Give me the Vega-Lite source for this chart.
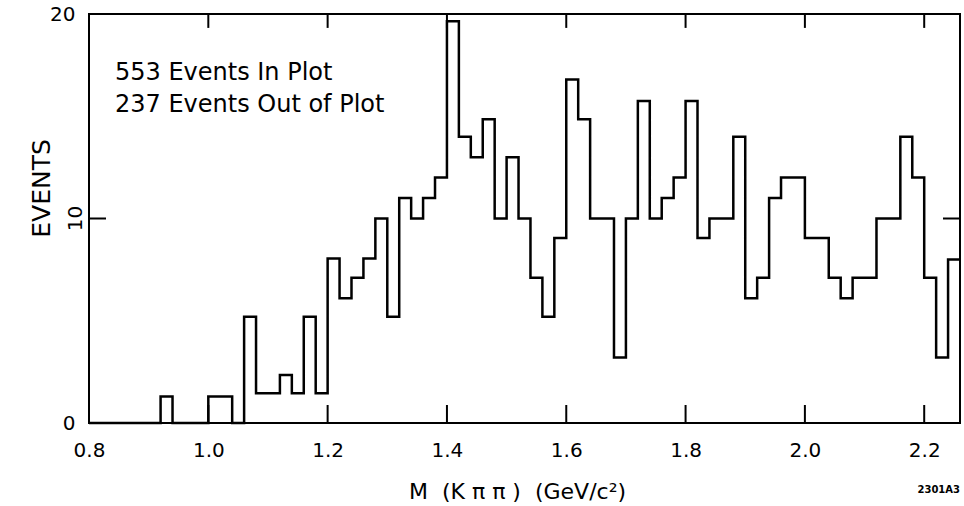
{
  "$schema": "https://vega.github.io/schema/vega-lite/v6.json",
  "width": 871,
  "height": 409,
  "autosize": "none",
  "padding": {"left": 89, "top": 14, "right": 4, "bottom": 83},
  "background": "white",
  "config": {
    "view": {"stroke": "black", "strokeWidth": 2},
    "font": "DejaVu Sans",
    "axis": {
      "domain": false,
      "grid": false,
      "ticks": false,
      "labelColor": "black",
      "titleColor": "black",
      "labelFont": "DejaVu Sans",
      "titleFont": "DejaVu Sans",
      "titleFontWeight": "normal",
      "labelFontSize": 20,
      "labelFlush": false,
      "labelOverlap": false
    }
  },
  "datasets": {
    "hist": [
      {"m": 0.80, "events": 0}, {"m": 0.82, "events": 0}, {"m": 0.84, "events": 0},
      {"m": 0.86, "events": 0}, {"m": 0.88, "events": 0}, {"m": 0.90, "events": 0},
      {"m": 0.92, "events": 1.3}, {"m": 0.94, "events": 0}, {"m": 0.96, "events": 0},
      {"m": 0.98, "events": 0}, {"m": 1.00, "events": 1.3}, {"m": 1.02, "events": 1.3},
      {"m": 1.04, "events": 0}, {"m": 1.06, "events": 5.2}, {"m": 1.08, "events": 1.45},
      {"m": 1.10, "events": 1.45}, {"m": 1.12, "events": 2.35}, {"m": 1.14, "events": 1.45},
      {"m": 1.16, "events": 5.2}, {"m": 1.18, "events": 1.45}, {"m": 1.20, "events": 8.05},
      {"m": 1.22, "events": 6.1}, {"m": 1.24, "events": 7.1}, {"m": 1.26, "events": 8.05},
      {"m": 1.28, "events": 10}, {"m": 1.30, "events": 5.2}, {"m": 1.32, "events": 11},
      {"m": 1.34, "events": 10}, {"m": 1.36, "events": 11}, {"m": 1.38, "events": 12},
      {"m": 1.40, "events": 19.65}, {"m": 1.42, "events": 14}, {"m": 1.44, "events": 13},
      {"m": 1.46, "events": 14.85}, {"m": 1.48, "events": 10}, {"m": 1.50, "events": 13},
      {"m": 1.52, "events": 10}, {"m": 1.54, "events": 7.1}, {"m": 1.56, "events": 5.2},
      {"m": 1.58, "events": 9.05}, {"m": 1.60, "events": 16.8}, {"m": 1.62, "events": 14.85},
      {"m": 1.64, "events": 10}, {"m": 1.66, "events": 10}, {"m": 1.68, "events": 3.2},
      {"m": 1.70, "events": 10}, {"m": 1.72, "events": 15.75}, {"m": 1.74, "events": 10},
      {"m": 1.76, "events": 11}, {"m": 1.78, "events": 12}, {"m": 1.80, "events": 15.75},
      {"m": 1.82, "events": 9.05}, {"m": 1.84, "events": 10}, {"m": 1.86, "events": 10},
      {"m": 1.88, "events": 14}, {"m": 1.90, "events": 6.1}, {"m": 1.92, "events": 7.1},
      {"m": 1.94, "events": 11}, {"m": 1.96, "events": 12}, {"m": 1.98, "events": 12},
      {"m": 2.00, "events": 9.05}, {"m": 2.02, "events": 9.05}, {"m": 2.04, "events": 7.1},
      {"m": 2.06, "events": 6.1}, {"m": 2.08, "events": 7.1}, {"m": 2.10, "events": 7.1},
      {"m": 2.12, "events": 10}, {"m": 2.14, "events": 10}, {"m": 2.16, "events": 14},
      {"m": 2.18, "events": 12}, {"m": 2.20, "events": 7.1}, {"m": 2.22, "events": 3.2},
      {"m": 2.24, "events": 8}, {"m": 2.26, "events": 8}
    ],
    "xticks": [
      {"m": 1.0}, {"m": 1.2}, {"m": 1.4}, {"m": 1.6}, {"m": 1.8}, {"m": 2.0}, {"m": 2.2}
    ],
    "yticks": [
      {"events": 10}
    ],
    "notes": [
      {"m": 0.8435, "events": 16.77, "label": "553 Events In Plot"},
      {"m": 0.8435, "events": 15.21, "label": "237 Events Out of Plot"}
    ],
    "ylabel": [
      {"m": 0.7883, "events": 10, "label": "10"}
    ],
    "code": [
      {"m": 2.26, "events": -3.3, "label": "2301A3"}
    ]
  },
  "layer": [
    {
      "data": {"name": "hist"},
      "mark": {"type": "line", "interpolate": "step-after", "color": "black", "strokeWidth": 2.5},
      "encoding": {
        "x": {
          "field": "m", "type": "quantitative",
          "scale": {"domain": [0.8, 2.26], "nice": false, "zero": false},
          "axis": {
            "orient": "bottom",
            "values": [0.8, 1.0, 1.2, 1.4, 1.6, 1.8, 2.0, 2.2],
            "format": ".1f",
            "labelPadding": 17,
            "title": "M\u00a0\u00a0(K π π )\u00a0\u00a0(GeV/c²)",
            "titleFontSize": 22,
            "titleX": 428,
            "titleY": 68,
            "titleBaseline": "middle"
          }
        },
        "y": {
          "field": "events", "type": "quantitative",
          "scale": {"domain": [0, 20], "nice": false},
          "axis": {
            "orient": "left",
            "values": [0, 10, 20],
            "labelExpr": "datum.value === 10 ? '' : datum.label",
            "labelPadding": 14,
            "title": "EVENTS",
            "titleFontSize": 25,
            "titleAngle": -90,
            "titleX": -48,
            "titleY": 174,
            "titleAlign": "center",
            "titleBaseline": "middle"
          }
        }
      }
    },
    {
      "data": {"name": "xticks"},
      "mark": {"type": "rule", "color": "black", "strokeWidth": 2},
      "encoding": {
        "x": {"field": "m", "type": "quantitative"},
        "y": {"datum": 0, "type": "quantitative"},
        "y2": {"datum": 0.88}
      }
    },
    {
      "data": {"name": "xticks"},
      "mark": {"type": "rule", "color": "black", "strokeWidth": 2},
      "encoding": {
        "x": {"field": "m", "type": "quantitative"},
        "y": {"datum": 20, "type": "quantitative"},
        "y2": {"datum": 19.32}
      }
    },
    {
      "data": {"name": "yticks"},
      "mark": {"type": "rule", "color": "black", "strokeWidth": 2},
      "encoding": {
        "x": {"datum": 0.8, "type": "quantitative"},
        "x2": {"datum": 0.8285},
        "y": {"field": "events", "type": "quantitative"}
      }
    },
    {
      "data": {"name": "yticks"},
      "mark": {"type": "rule", "color": "black", "strokeWidth": 2},
      "encoding": {
        "x": {"datum": 2.26, "type": "quantitative"},
        "x2": {"datum": 2.2315},
        "y": {"field": "events", "type": "quantitative"}
      }
    },
    {
      "data": {"name": "notes"},
      "mark": {"type": "text", "align": "left", "baseline": "alphabetic", "fontSize": 24, "font": "DejaVu Sans", "color": "black"},
      "encoding": {
        "x": {"field": "m", "type": "quantitative"},
        "y": {"field": "events", "type": "quantitative"},
        "text": {"field": "label"}
      }
    },
    {
      "data": {"name": "ylabel"},
      "mark": {"type": "text", "align": "center", "baseline": "alphabetic", "angle": 270, "fontSize": 20, "font": "DejaVu Sans", "color": "black"},
      "encoding": {
        "x": {"field": "m", "type": "quantitative"},
        "y": {"field": "events", "type": "quantitative"},
        "text": {"field": "label"}
      }
    },
    {
      "data": {"name": "code"},
      "mark": {"type": "text", "align": "right", "baseline": "middle", "fontSize": 10, "fontWeight": "bold", "font": "DejaVu Sans", "color": "black"},
      "encoding": {
        "x": {"field": "m", "type": "quantitative"},
        "y": {"field": "events", "type": "quantitative"},
        "text": {"field": "label"}
      }
    }
  ]
}
